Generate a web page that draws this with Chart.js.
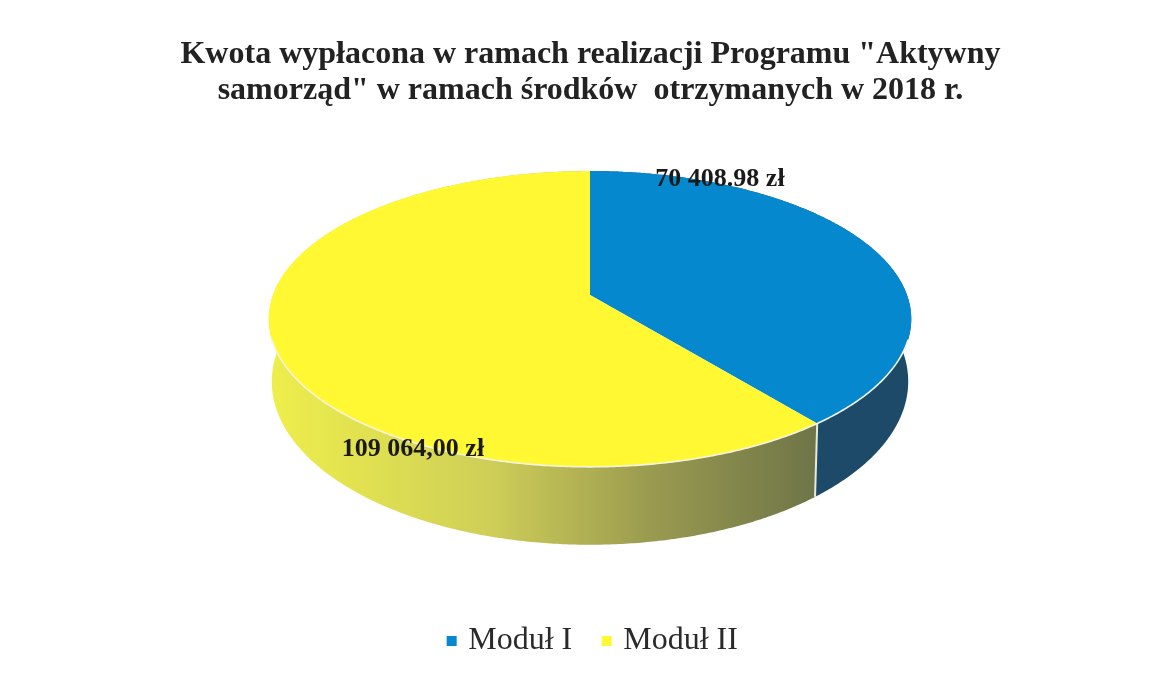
<!DOCTYPE html>
<html><head><meta charset="utf-8">
<style>html,body{margin:0;padding:0;background:#fff}canvas{display:block}</style>
<script src="https://cdn.jsdelivr.net/npm/chart.js@4"></script>
</head><body>
<canvas id="c" width="1151" height="674"></canvas>
<script>
const titleLines = ['Kwota wypłacona w ramach realizacji Programu "Aktywny', 'samorząd" w ramach środków  otrzymanych w 2018 r.'];
const categories = ['Moduł I', 'Moduł II'];
const values = [70408.98, 109064.00];
const valueLabels = ['70 408.98 zł', '109 064,00 zł'];
const colors = ['#0688cf', '#fff833'];

// projection of the unit disc onto the page (tilted pie with perspective)
const topFace = {cx: 590, cy: 295, A: 317, B: 144, k: -0.162};
const baseFace = {cx: 590, cy: 355, A: 314, B: 159, k: -0.162};
const labelAnchors = [[720, 179], [413, 449]];
const wallStops = [
  [[0, '#1d4a68'], [1, '#254c6c']],
  [[0, '#6f7548'], [0.3, '#9a9a50'], [0.6, '#cfcf58'], [1, '#eeee4c']]
];
function project(f, a, r) {
  const u = Math.cos(a) * r, v = Math.sin(a) * r, d = 1 + f.k * v;
  return [f.cx + f.A * u / d, f.cy + f.B * v / d];
}
function tracePart(ctx, f, a0, a1, first) {
  const n = Math.max(2, Math.ceil(Math.abs(a1 - a0) * 120));
  for (let i = 0; i <= n; i++) {
    const p = project(f, a0 + (a1 - a0) * i / n, 1);
    if (i === 0 && first) ctx.moveTo(p[0], p[1]); else ctx.lineTo(p[0], p[1]);
  }
}
const pie3d = {
  id: 'pie3d',
  afterLayout(chart) {
    chart.legend.left += 4;
    chart.legend.right += 4;
  },
  beforeDatasetDraw(chart, args) {
    const ctx = chart.ctx, arcs = args.meta.data;
    ctx.save();
    // walls
    arcs.forEach((el, i) => {
      const g = ctx.createLinearGradient(815, 0, 270, 0);
      const stops = wallStops[i];
      if (i === 0) { g.addColorStop(0, stops[0][1]); g.addColorStop(1, stops[1][1]); }
      else stops.forEach(s => g.addColorStop(s[0], s[1]));
      ctx.beginPath();
      tracePart(ctx, topFace, el.startAngle, el.endAngle, true);
      tracePart(ctx, baseFace, el.endAngle, el.startAngle, false);
      ctx.closePath();
      ctx.fillStyle = g;
      ctx.fill();
    });
    // wall edge between the two slices
    const split = arcs[0].endAngle;
    const p0 = project(topFace, split, 1), p1 = project(baseFace, split, 1);
    ctx.strokeStyle = '#e6ecdc'; ctx.lineWidth = 2;
    ctx.beginPath(); ctx.moveTo(p0[0], p0[1]); ctx.lineTo(p1[0], p1[1]); ctx.stroke();
    // top faces
    arcs.forEach((el, i) => {
      ctx.beginPath();
      ctx.moveTo(topFace.cx, topFace.cy);
      tracePart(ctx, topFace, el.startAngle, el.endAngle, false);
      ctx.closePath();
      ctx.fillStyle = el.options.backgroundColor;
      ctx.fill();
    });
    // light rim on the front edge
    ctx.strokeStyle = '#f4f4e0'; ctx.lineWidth = 1.6;
    ctx.beginPath();
    tracePart(ctx, topFace, 0.3, Math.PI - 0.3, true);
    ctx.stroke();
    ctx.restore();
    return false;
  },
  afterDatasetsDraw(chart) {
    const ctx = chart.ctx;
    ctx.save();
    ctx.font = 'bold 26px "Liberation Serif"';
    ctx.fillStyle = '#1a1a1a';
    ctx.textAlign = 'center';
    ctx.textBaseline = 'middle';
    valueLabels.forEach((t, i) => ctx.fillText(t, labelAnchors[i][0], labelAnchors[i][1]));
    ctx.restore();
  }
};
new Chart(document.getElementById('c'), {
  type: 'pie',
  data: {labels: categories, datasets: [{data: values, backgroundColor: colors, borderWidth: 0}]},
  plugins: [pie3d],
  options: {
    responsive: false,
    animation: false,
    layout: {padding: {left: 30, right: 0, top: 17, bottom: 7}},
    plugins: {
      tooltip: {enabled: false},
      title: {display: true, text: titleLines, color: '#222222',
        font: {family: '"Liberation Serif"', size: 32, weight: 'bold', lineHeight: 1.125},
        padding: {top: 20, bottom: 20}},
      legend: {display: true, position: 'bottom',
        labels: {color: '#2a2a2a', usePointStyle: true, pointStyle: 'rect', boxWidth: 1, boxHeight: 10,
          padding: 34, font: {family: '"Liberation Serif"', size: 32}}}
    }
  }
});
</script>
</body></html>
